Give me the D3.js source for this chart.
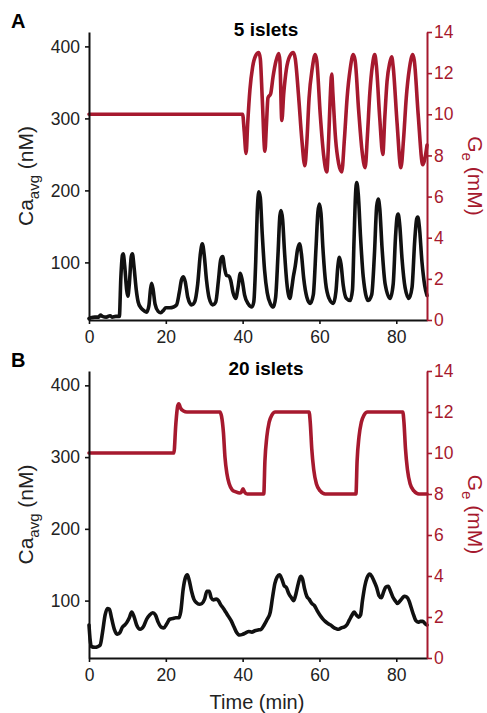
<!DOCTYPE html>
<html>
<head>
<meta charset="utf-8">
<script src="https://cdn.jsdelivr.net/npm/d3@7"></script>
<style>
  html, body { margin: 0; padding: 0; background: #fff; }
  svg { display: block; font-family: "Liberation Sans", Arial, Helvetica, sans-serif; }
</style>
</head>
<body>
<svg id="chart" width="487" height="713"></svg>
<script>
// ---- Panel A: 5 islets ----
const timeCa5 = [0, 0.5, 1.5, 2.5, 3, 3.5, 4.5, 5.5, 6, 7, 7.9, 8.3, 8.7, 8.9, 9.3, 9.8, 10.1, 10.5, 11.0, 11.3, 11.7, 12.3, 12.8, 13.5, 14.3, 15, 15.6, 16.0, 16.3, 16.7, 17.2, 18, 18.7, 19.3, 20, 21, 22, 22.8, 23.5, 24.1, 24.6, 25.1, 25.7, 26.7, 27.5, 28.3, 29.0, 29.5, 30.0, 30.6, 31.3, 32.2, 33.0, 33.7, 34.3, 34.8, 35.3, 35.8, 36.4, 36.9, 37.5, 38.2, 38.8, 39.4, 39.9, 40.5, 41.5, 42.4, 42.9, 43.4, 43.8, 44.2, 44.6, 45.1, 45.7, 46.4, 47.2, 48, 48.6, 49.2, 49.7, 50.0, 50.4, 50.9, 51.5, 52.3, 52.8, 53.2, 53.7, 54.3, 54.8, 55.3, 55.9, 56.7, 57.6, 58.4, 59.1, 59.6, 60.0, 60.4, 60.9, 61.6, 62.5, 63.6, 64.3, 64.8, 65.2, 65.6, 66.2, 67, 68, 68.6, 69.0, 69.4, 69.7, 70.1, 70.7, 71.4, 72.7, 73.6, 74.3, 74.9, 75.3, 75.7, 76.3, 77.1, 78.4, 79.2, 79.8, 80.2, 80.5, 80.9, 81.5, 82.3, 83.3, 84.1, 84.8, 85.3, 85.6, 86.0, 86.7, 87.4, 88];
const ca5 = [22, 23, 24, 24, 27, 25, 24, 26, 24, 25, 25, 80, 110, 112, 95, 62, 53, 70, 108, 112, 95, 62, 45, 37, 33, 31, 40, 62, 71, 62, 42, 32, 30, 33, 37, 37, 38, 41, 58, 76, 80, 72, 52, 41, 45, 70, 112, 126, 110, 75, 50, 41, 45, 75, 104, 108, 92, 82, 81, 75, 58, 50, 65, 85, 75, 55, 42, 38, 45, 100, 170, 198, 190, 140, 90, 58, 43, 38, 52, 110, 165, 172, 160, 115, 72, 50, 65, 80, 95, 118, 126, 112, 78, 52, 43, 55, 120, 170, 181, 168, 120, 72, 50, 43, 60, 95, 107, 98, 68, 50, 47, 62, 130, 195, 211, 195, 135, 80, 47, 55, 110, 178, 188, 175, 120, 70, 50, 70, 135, 163, 167, 152, 105, 65, 50, 65, 130, 160, 163, 150, 100, 68, 54];

const timeGe5 = [0, 40.0, 40.4, 40.9, 41.3, 41.9, 42.6, 43.4, 44.2, 44.6, 45.1, 45.8, 46.2, 46.6, 47.3, 47.9, 48.7, 49.4, 49.7, 50.2, 50.7, 51.4, 52.2, 53.2, 53.7, 54.6, 55.4, 56.2, 56.7, 57.3, 58.1, 58.9, 59.3, 60.2, 61.1, 61.9, 62.4, 62.8, 63.2, 63.5, 64.2, 65.0, 65.8, 66.5, 67.2, 68.0, 68.8, 69.3, 70.2, 71.1, 71.9, 72.5, 73.1, 73.8, 74.4, 74.8, 75.7, 76.5, 77.0, 77.6, 78.3, 78.8, 79.2, 80.2, 81.2, 81.9, 82.6, 83.4, 84.3, 84.7, 85.7, 86.9, 87.4, 88];
const ge5 = [10, 10, 9.2, 8.1, 9.5, 11.2, 12.3, 12.85, 13.0, 12.7, 10.8, 8.2, 9.5, 10.8, 11.0, 11.8, 12.6, 12.95, 12.6, 9.7, 11.0, 12.2, 12.8, 13.0, 12.7, 10.8, 8.8, 7.5, 8.6, 10.8, 12.2, 12.9, 12.6, 10.0, 8.0, 7.2, 8.8, 10.8, 11.95, 11.0, 8.8, 7.6, 7.2, 8.8, 10.8, 12.2, 12.9, 12.6, 10.2, 8.2, 7.4, 9.0, 11.0, 12.4, 12.9, 12.4, 9.8, 8.05, 9.8, 11.6, 12.5, 12.8, 12.3, 9.6, 7.4, 8.8, 10.8, 12.2, 12.9, 12.6, 10.0, 7.55, 7.8, 8.5];

// ---- Panel B: 20 islets ----
const timeCa20 = [0, 0.3, 0.6, 1.5, 2.3, 2.9, 3.5, 4.2, 4.8, 5.3, 5.9, 6.6, 7.4, 8.1, 8.7, 9.3, 9.9, 10.5, 11.1, 11.7, 12.4, 13.3, 14.2, 15.0, 15.8, 16.6, 17.3, 18.0, 18.8, 19.5, 20.3, 21.0, 21.8, 22.6, 23.4, 23.9, 24.5, 25.1, 25.6, 26.1, 26.7, 27.3, 28.0, 28.7, 29.4, 30.1, 30.7, 31.3, 31.8, 32.4, 33.1, 33.7, 34.3, 35.0, 35.6, 36.3, 37.0, 37.7, 38.4, 39.2, 40.0, 40.8, 41.6, 42.4, 43.2, 44.0, 44.8, 45.6, 46.4, 47.2, 47.8, 48.4, 49.0, 49.6, 50.2, 50.8, 51.4, 52.0, 52.7, 53.3, 53.9, 54.5, 55.1, 55.6, 56.1, 56.7, 57.3, 58.0, 58.7, 59.4, 60.1, 60.8, 61.5, 62.2, 62.9, 63.6, 64.3, 65.0, 65.7, 66.4, 67.1, 67.8, 68.5, 69.0, 69.6, 70.2, 70.7, 71.2, 71.8, 72.4, 73.1, 73.7, 74.3, 74.9, 75.5, 76.1, 76.7, 77.3, 77.9, 78.5, 79.1, 79.7, 80.3, 80.9, 81.5, 82.1, 82.7, 83.3, 83.9, 84.5, 85.1, 85.7, 86.3, 86.9, 87.5, 88.0];
const ca20 = [66, 45, 36, 35, 36, 38, 55, 80, 89, 88, 75, 60, 53, 56, 63, 66, 70, 76, 84, 78, 66, 60, 64, 74, 80, 83, 80, 70, 63, 62, 68, 74, 75, 76, 76, 85, 115, 132, 136, 128, 113, 102, 97, 95, 96, 102, 113, 113, 104, 101, 102, 100, 94, 89, 84, 78, 72, 64, 56, 52, 53, 55, 57, 56, 58, 59, 60, 66, 74, 84, 105, 124, 133, 136, 130, 121, 118, 110, 104, 100, 110, 124, 134, 130, 117, 106, 102, 96, 93, 86, 80, 75, 71, 68, 66, 63, 61, 60, 62, 63, 66, 73, 80, 84, 80, 77, 80, 100, 120, 132, 137, 133, 126, 118, 107, 104, 112, 119, 120, 113, 105, 100, 96, 99, 103, 106, 105, 100, 90, 80, 72, 70, 71, 71, 68, 66];

const timeGe20 = [0, 22.1, 22.6, 23.1, 23.4, 23.8, 24.6, 25.5, 34.1, 34.5, 35.0, 35.4, 35.9, 36.5, 37.3, 38.3, 39.2, 39.7, 40.1, 40.5, 41.2, 45.5, 45.8, 46.3, 46.9, 47.6, 48.5, 57.3, 57.6, 58.0, 58.5, 59.2, 60.2, 61.5, 69.5, 69.8, 70.3, 70.9, 71.6, 72.5, 81.7, 82.0, 82.4, 82.9, 83.6, 84.6, 85.9, 88];
const ge20 = [10, 10, 11.4, 12.3, 12.4, 12.2, 12.05, 12.0, 12.0, 11.8, 11.0, 9.8, 9.0, 8.5, 8.2, 8.1, 8.05, 8.1, 8.25, 8.1, 8.0, 8.0, 9.6, 10.8, 11.5, 11.85, 12.0, 12.0, 11.5, 10.2, 9.2, 8.5, 8.15, 8.0, 8.0, 9.6, 10.8, 11.5, 11.85, 12.0, 12.0, 11.5, 10.2, 9.2, 8.5, 8.15, 8.0, 8.0];

// axis settings
const timeDomain = [0, 88];
const timeTicks = [0, 20, 40, 60, 80];
const caDomain = [20, 420];
const caTicks = [100, 200, 300, 400];
const geDomain = [0, 14];
const geTicks = [0, 2, 4, 6, 8, 10, 12, 14];

const RED = "#a6192e";
const INK = "#111";
const TICK_INK = "#222";

const svg = d3.select("#chart");

function drawPanel(opts) {
  const { top, bottom, letter, title, caT, caV, geT, geV, showXLabel } = opts;
  const x = d3.scaleLinear().domain(timeDomain).range([89, 427]);
  const yCa = d3.scaleLinear().domain(caDomain).range([bottom, top]);
  const yGe = d3.scaleLinear().domain(geDomain).range([bottom, top]);

  const g = svg.append("g");

  // traces
  const caLine = d3.line().x((d, i) => x(caT[i])).y(d => yCa(d)).curve(d3.curveMonotoneX);
  const geLine = d3.line().x((d, i) => x(geT[i])).y(d => yGe(d)).curve(d3.curveMonotoneX);

  g.append("path").datum(caV).attr("d", caLine)
    .attr("fill", "none").attr("stroke", INK).attr("stroke-width", 3.6)
    .attr("stroke-linejoin", "round").attr("stroke-linecap", "round");
  g.append("path").datum(geV).attr("d", geLine)
    .attr("fill", "none").attr("stroke", RED).attr("stroke-width", 3.6)
    .attr("stroke-linejoin", "round").attr("stroke-linecap", "round");

  // x axis
  const xAxis = g.append("g").attr("transform", `translate(0,${bottom})`)
    .call(d3.axisBottom(x).tickValues(timeTicks).tickSize(4).tickSizeOuter(0).tickPadding(7));
  // left axis
  const yAxisL = g.append("g").attr("transform", `translate(89,0)`)
    .call(d3.axisLeft(yCa).tickValues(caTicks).tickSize(4).tickSizeOuter(0).tickPadding(5));
  // right axis
  const yAxisR = g.append("g").attr("transform", `translate(427,0)`)
    .call(d3.axisRight(yGe).tickValues(geTicks).tickSize(5).tickSizeOuter(0).tickPadding(2));

  [xAxis, yAxisL].forEach(a => {
    a.select(".domain").attr("stroke", INK).attr("stroke-width", 2);
    a.selectAll(".tick line").attr("stroke", INK).attr("stroke-width", 1.6);
    a.selectAll(".tick text").attr("fill", TICK_INK).style("font-size", "17.5px");
    a.attr("font-family", null);
  });
  yAxisR.select(".domain").attr("stroke", RED).attr("stroke-width", 2);
  yAxisR.selectAll(".tick line").attr("stroke", RED).attr("stroke-width", 1.6);
  yAxisR.selectAll(".tick text").attr("fill", RED).style("font-size", "17.5px");
  yAxisR.attr("font-family", null);

  // panel letter and title
  g.append("text").attr("x", 11).attr("y", top - 4).text(letter)
    .style("font-size", "20px").style("font-weight", "bold").attr("fill", "#000");
  g.append("text").attr("x", 266).attr("y", top + 4).attr("text-anchor", "middle").text(title)
    .style("font-size", "19px").style("font-weight", "bold").attr("fill", "#000");

  // left axis title: Ca_avg (nM)
  const mid = (top + bottom) / 2;
  const lt = g.append("text")
    .attr("transform", `translate(33,${mid}) rotate(-90)`)
    .attr("text-anchor", "middle").attr("fill", TICK_INK).style("font-size", "21px");
  lt.append("tspan").text("Ca");
  lt.append("tspan").text("avg").style("font-size", "15px").attr("dy", 6);
  lt.append("tspan").text(" (nM)").attr("dy", -6);

  // right axis title: G_e (mM)
  const rt = g.append("text")
    .attr("transform", `translate(468,${mid}) rotate(90)`)
    .attr("text-anchor", "middle").attr("fill", RED).style("font-size", "21px");
  rt.append("tspan").text("G");
  rt.append("tspan").text("e").style("font-size", "15px").attr("dy", 6);
  rt.append("tspan").text(" (mM)").attr("dy", -6);

  if (showXLabel) {
    g.append("text").attr("x", 257).attr("y", bottom + 51).attr("text-anchor", "middle")
      .attr("fill", TICK_INK).style("font-size", "20px").text("Time (min)");
  }
}

drawPanel({ top: 32, bottom: 320, letter: "A", title: "5 islets",
  caT: timeCa5, caV: ca5, geT: timeGe5, geV: ge5, showXLabel: false });
drawPanel({ top: 371, bottom: 658, letter: "B", title: "20 islets",
  caT: timeCa20, caV: ca20, geT: timeGe20, geV: ge20, showXLabel: true });
</script>
</body>
</html>
